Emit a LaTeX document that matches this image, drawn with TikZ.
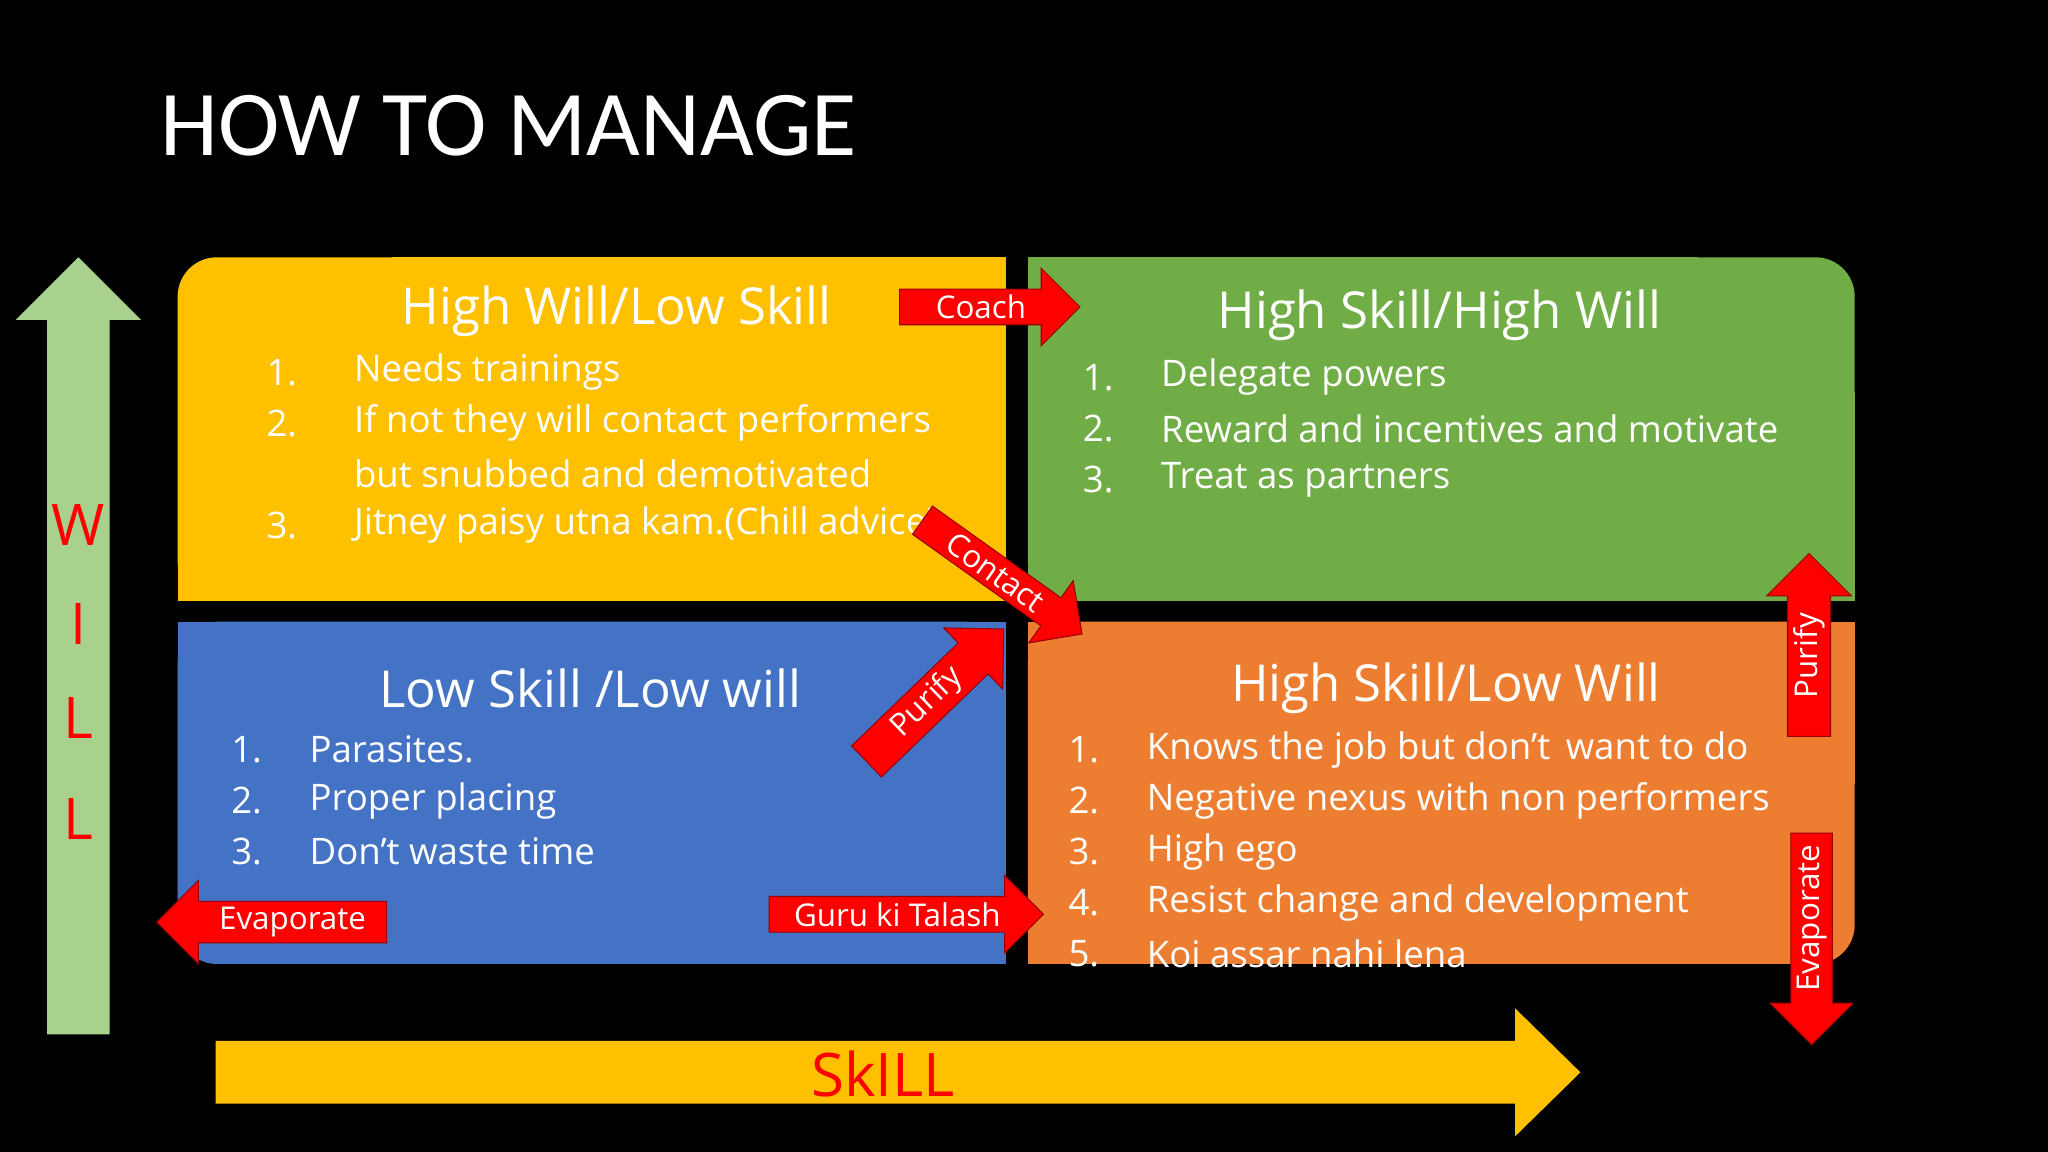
\documentclass[tikz,border=0pt]{standalone}
\usepackage{fontspec}
\setmainfont{Open Sans}
\newfontfamily\ttlfont{Carlito}
\usetikzlibrary{shapes.arrows}
\definecolor{yq}{HTML}{FFC000}
\definecolor{gq}{HTML}{70AD47}
\definecolor{bq}{HTML}{4472C4}
\definecolor{oq}{HTML}{ED7D31}
\definecolor{lg}{HTML}{A9D18E}
\begin{document}
\begin{tikzpicture}[x=0.5pt,y=-0.5pt,
  redarrow/.style={single arrow, fill=red, draw=red!60!black, line width=0.4pt, text=white,
    font=\fontsize{12}{14}\selectfont, inner ysep=2pt, inner xsep=2pt,
    single arrow head extend=8pt, single arrow tip angle=90, anchor=center},
  lst/.style={text=white, anchor=west, font=\fontsize{14}{16}\selectfont},
  hd/.style={text=white, font=\fontsize{19.5}{22}\selectfont},
  wl/.style={text=red, font=\fontsize{22}{24}\selectfont}]
\fill[black] (0,0) rectangle (1568,882);
\useasboundingbox (0,0) rectangle (1568,882);
\node[text=white, anchor=west, font=\ttlfont\fontsize{35.5}{40}\selectfont] (title) at (116,96) {HOW TO MANAGE};
% quadrants
\fill[yq, rounded corners=15pt] (136,197) rectangle (770,460);
\fill[yq] (136,300) rectangle (770,460); \fill[yq] (300,197) rectangle (770,460);
\fill[gq, rounded corners=15pt] (787,197) rectangle (1420,460);
\fill[gq] (787,300) rectangle (1420,460); \fill[gq] (787,197) rectangle (1300,460);
\fill[bq, rounded corners=15pt] (136,476) rectangle (770,738);
\fill[bq] (136,476) rectangle (770,600); \fill[bq] (300,476) rectangle (770,738);
\fill[oq, rounded corners=15pt] (787,476) rectangle (1420,738);
\fill[oq] (787,476) rectangle (1420,600); \fill[oq] (787,476) rectangle (1300,738);
% axes
\fill[lg] (36,792) -- (36,245) -- (12,245) -- (60,197) -- (108,245) -- (84,245) -- (84,792) -- cycle;
\fill[yq] (165,797) -- (1160,797) -- (1160,772) -- (1210,821) -- (1160,870) -- (1160,845) -- (165,845) -- cycle;
\node[wl] (w1) at (60,402) {W};
\node[wl] (w2) at (60,478) {I};
\node[wl] (w3) at (60,550) {L};
\node[wl] (w4) at (60,627) {L};
\node[text=red, font=\fontsize{23}{26}\selectfont] (skill) at (676,822) {SkILL};
% yellow
\node[hd] (h1) at (472,238) {High Will/Low Skill};
\node[lst] at (197,285) {1.}; \node[lst] at (264,285) {Needs trainings};
\node[lst] at (197,324) {2.}; \node[lst] at (264,324) {If not they will contact performers};
\node[lst] at (264,363) {but snubbed and demotivated};
\node[lst] at (197,402) {3.}; \node[lst] at (264,402) {Jitney paisy utna kam.(Chill advice)};
% green
\node[hd] (h2) at (1102,241) {High Skill/High Will};
\node[lst] at (822,289) {1.}; \node[lst] at (882,289) {Delegate powers};
\node[lst] at (822,328) {2.}; \node[lst] at (882,328) {Reward and incentives and motivate};
\node[lst] at (822,367) {3.}; \node[lst] at (882,367) {Treat as partners};
% blue
\node[hd] (h3) at (452,527) {Low Skill /Low will};
\node[lst] at (170,574) {1.}; \node[lst] at (230,574) {Parasites.};
\node[lst] at (170,613) {2.}; \node[lst] at (230,613) {Proper placing};
\node[lst] at (170,652) {3.}; \node[lst] at (230,652) {Don’t waste time};
% orange
\node[hd] (h4) at (1107,527) {High Skill/Low Will};
\node[lst] at (811,574) {1.}; \node[lst] at (871,574) {Knows the job but don’t\, want to do};
\node[lst] at (811,613) {2.}; \node[lst] at (871,613) {Negative nexus with non performers};
\node[lst] at (811,652) {3.}; \node[lst] at (871,652) {High ego};
\node[lst] at (811,691) {4.}; \node[lst] at (871,691) {Resist change and development};
\node[lst] at (811,730) {5.}; \node[lst] at (871,730) {Koi assar nahi lena};
% red arrows
\node[redarrow, minimum height=69pt] (coach) at (751,235) {Coach\hspace{10pt}};
\node[redarrow, minimum height=75pt, rotate=-35.5] (contact) at (762,438) {Contact\hspace{6pt}};
\node[redarrow, minimum height=73pt, rotate=44] (purl) at (710,538) {Purify\hspace{8pt}};
\node[redarrow, minimum height=105pt] (guru) at (687,700) {Guru ki Talash\hspace{6pt}};
\node[redarrow, minimum height=88pt, shape border rotate=180] (evl) at (216,706) {\hspace{8pt}Evaporate};
\node[redarrow, minimum height=70pt, rotate=90] (purr) at (1385,502) {Purify\hspace{8pt}};
\node[redarrow, minimum height=81pt, rotate=90, shape border rotate=180] (evr) at (1387,711) {\hspace{8pt}Evaporate};
\end{tikzpicture}
\end{document}
